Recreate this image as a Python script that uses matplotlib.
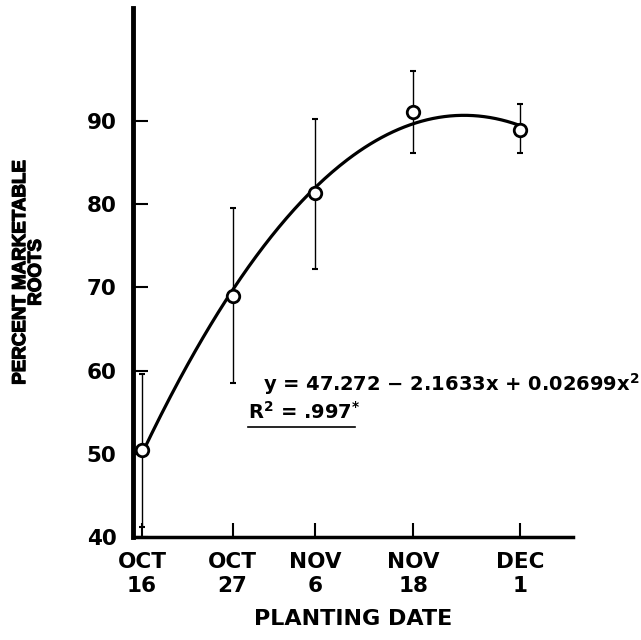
import numpy as np
import matplotlib
matplotlib.use("Agg")
import matplotlib.pyplot as plt
import matplotlib.patheffects as pe
from matplotlib.font_manager import FontProperties

plt.rcParams["font.family"] = ["DejaVu Sans"]
plt.rcParams["font.weight"] = "bold"
plt.rcParams["mathtext.default"] = "regular"

# planting dates as days after Oct 16
days = [0, 11, 21, 33, 46]
date_labels = ["OCT\n16", "OCT\n27", "NOV\n6", "NOV\n18", "DEC\n1"]
pct = [50.5, 69.0, 81.3, 91.1, 88.9]
err_lo = [41.2, 58.5, 72.2, 86.2, 86.2]
err_hi = [59.6, 79.5, 90.2, 96.0, 92.0]

d = np.array(days, float)
p = np.array(pct)
yerr = [p - np.array(err_lo), np.array(err_hi) - p]

fig = plt.figure(figsize=(6.41, 6.40), dpi=100)
ax = fig.add_axes([0.2075, 0.161, 0.6865, 0.8265])

# quadratic fit curve
coef = np.polyfit(d, p, 2)
xs = np.linspace(d[0], d[-1], 200)
ax.plot(xs, np.polyval(coef, xs), color="black", lw=2.3, zorder=2)

ax.errorbar(d, p, yerr=yerr, fmt="none", ecolor="black", elinewidth=1.0,
            capsize=2.5, capthick=1.5, zorder=1)
ax.plot(d, p, "o", ms=9, mfc="white", mec="black", mew=2, zorder=3)

ax.set_xlim(-1.1, 52.4)
ax.set_ylim(40, 103.6)
ax.set_yticks([40, 50, 60, 70, 80, 90])
ax.set_xticks(days)
ax.set_xticklabels(date_labels, fontsize=15.5, fontweight="bold", linespacing=1.25)
ax.tick_params(axis="y", direction="in", length=11, width=1.5, labelsize=15.5, pad=12)
ax.tick_params(axis="x", direction="in", length=10, width=1.5, pad=11)
for t in ax.get_yticklabels():
    t.set_fontweight("bold")

for s in ["top", "right"]:
    ax.spines[s].set_visible(False)
ax.spines["left"].set_linewidth(3.5)
ax.spines["bottom"].set_linewidth(2.5)

ax.set_xlabel("PLANTING DATE", fontsize=16, fontweight="bold", labelpad=9)
ylab_font = FontProperties(family="Liberation Sans", weight="bold", size=13.5)
ylab = ax.set_ylabel("PERCENT MARKETABLE\nROOTS", fontproperties=ylab_font,
                     labelpad=30, linespacing=0.9)
ylab.set_path_effects([pe.withStroke(linewidth=0.9, foreground="black")])

ax.text(14.7, 58.4, "y = 47.272 − 2.1633x + 0.02699x$^2$", fontsize=14,
        fontweight="bold", va="center", ha="left", clip_on=False)
ax.text(12.9, 55.1, "R$^2$ = .997$^{*}$", fontsize=14, fontweight="bold",
        va="center", ha="left")
ax.plot([12.9, 25.9], [53.2, 53.2], color="black", lw=1.2)

fig.savefig("out.png", dpi=100)
